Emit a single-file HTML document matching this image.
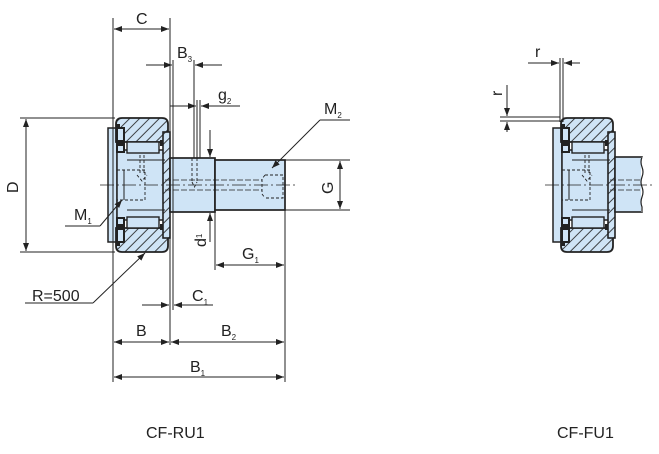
<!DOCTYPE html>
<html><head><meta charset="utf-8"><style>
html,body{margin:0;padding:0;background:#fff;}
svg{display:block}
text{font-family:"Liberation Sans","DejaVu Sans",sans-serif;fill:#222}
</style></head><body>
<svg width="659" height="454" viewBox="0 0 659 454" xmlns="http://www.w3.org/2000/svg">
<defs>
<pattern id="h" patternUnits="userSpaceOnUse" width="7" height="7" patternTransform="rotate(45)">
<rect width="7" height="7" fill="#cfe4f6"/><line x1="0" y1="0" x2="0" y2="7" stroke="#222" stroke-width="1.7"/></pattern>
<marker id="a" markerWidth="8" markerHeight="6" refX="8" refY="3" orient="auto" markerUnits="userSpaceOnUse"><path d="M0,0 L8,3 L0,6 Z" fill="#222"/></marker>
<g id="brg">
 <rect x="108" y="128" width="9" height="114" fill="#cfe4f6" stroke="#222" stroke-width="1.5"/>
 <rect x="117" y="150" width="48" height="70" fill="#cfe4f6" stroke="#222" stroke-width="1.5"/>
 <path d="M116,142 L116,124 Q116,118 122,118 L162,118 Q168,118 168,124 L168,142 Z" fill="url(#h)" stroke="#222" stroke-width="1.8"/>
 <path d="M116,228 L116,246 Q116,252 122,252 L162,252 Q168,252 168,246 L168,228 Z" fill="url(#h)" stroke="#222" stroke-width="1.8"/>
 <rect x="127" y="142" width="32" height="11" fill="#cfe4f6" stroke="#222" stroke-width="1.4"/>
 <rect x="127" y="217" width="32" height="11" fill="#cfe4f6" stroke="#222" stroke-width="1.4"/>
 <rect x="117" y="128" width="7" height="24" fill="#cfe4f6" stroke="#222" stroke-width="2"/>
 <rect x="117" y="218" width="7" height="24" fill="#cfe4f6" stroke="#222" stroke-width="2"/>
 <rect x="118" y="140" width="6" height="6" fill="#222"/>
 <rect x="118" y="224" width="6" height="6" fill="#222"/>
 <rect x="160" y="140" width="6" height="6" fill="#222"/>
 <rect x="160" y="224" width="6" height="6" fill="#222"/>
 <rect x="116" y="124" width="4" height="4" fill="#222"/>
 <rect x="116" y="242" width="4" height="4" fill="#222"/>
 <rect x="163" y="132" width="7" height="106" fill="url(#h)" stroke="#222" stroke-width="1.6"/>
 <rect x="117" y="170" width="28" height="30" fill="none" stroke="#222" stroke-dasharray="3,2" stroke-width="0.9"/>
 <line x1="124" y1="170" x2="124" y2="200" stroke="#222" stroke-width="1"/>
 <path d="M140,155 L140,175 M144,155 L144,175 M137,175 L142,181 L147,175" fill="none" stroke="#222" stroke-width="0.9" stroke-dasharray="3,2"/>
 <line x1="127" y1="160" x2="165" y2="160" stroke="#222" stroke-width="1"/>
 <line x1="127" y1="210" x2="165" y2="210" stroke="#222" stroke-width="1"/>
</g>
</defs>

<use href="#brg"/>
<rect x="170" y="158" width="45" height="54" fill="#cfe4f6" stroke="#222" stroke-width="1.7"/>
<rect x="215" y="160" width="70" height="50" fill="#cfe4f6" stroke="#222" stroke-width="1.7"/>
<path d="M265,175 L283,175 L283,198 L265,198 M265,175 L262,179 L262,194 L265,198" fill="none" stroke="#222" stroke-width="0.9" stroke-dasharray="3,2"/>
<path d="M192,158 L192,182 M197,158 L197,182 M192,182 L194.5,187 L197,182" fill="none" stroke="#222" stroke-width="0.9" stroke-dasharray="3,2"/>
<path d="M165,180 L262,180 M165,190 L262,190" fill="none" stroke="#222" stroke-width="0.8" stroke-dasharray="6,2"/>
<line x1="100" y1="185" x2="295" y2="185" stroke="#222" stroke-width="0.7" stroke-dasharray="14,3,2,3"/>

<g stroke="#222" stroke-width="1" fill="none">
<line x1="113" y1="18" x2="113" y2="382"/><line x1="170" y1="18" x2="170" y2="345"/>
<line x1="123" y1="29" x2="114" y2="29" marker-end="url(#a)"/><line x1="160" y1="29" x2="169" y2="29" marker-end="url(#a)"/>
<line x1="123" y1="29" x2="160" y2="29"/>
<line x1="173" y1="60" x2="173" y2="310"/><line x1="194" y1="60" x2="194" y2="158"/>
<line x1="146" y1="65" x2="172" y2="65" marker-end="url(#a)"/><line x1="222" y1="65" x2="195" y2="65" marker-end="url(#a)"/>
<line x1="197" y1="100" x2="197" y2="158"/><line x1="200" y1="100" x2="200" y2="158"/>
<line x1="170" y1="106" x2="196" y2="106" marker-end="url(#a)"/><line x1="240" y1="106" x2="201" y2="106" marker-end="url(#a)"/>
<line x1="350" y1="120" x2="320" y2="120"/><line x1="320" y1="120" x2="272" y2="168" marker-end="url(#a)"/>
<line x1="285" y1="160" x2="350" y2="160"/><line x1="285" y1="210" x2="350" y2="210"/>
<line x1="340" y1="185" x2="340" y2="161" marker-end="url(#a)"/><line x1="340" y1="185" x2="340" y2="209" marker-end="url(#a)"/>
<line x1="210" y1="130" x2="210" y2="157" marker-end="url(#a)"/><line x1="210" y1="242" x2="210" y2="213" marker-end="url(#a)"/>
<line x1="215" y1="212" x2="215" y2="270"/><line x1="285" y1="210" x2="285" y2="382"/>
<line x1="250" y1="265" x2="216" y2="265" marker-end="url(#a)"/><line x1="250" y1="265" x2="284" y2="265" marker-end="url(#a)"/>
<line x1="20" y1="118" x2="115" y2="118"/><line x1="20" y1="252" x2="115" y2="252"/>
<line x1="26" y1="185" x2="26" y2="119" marker-end="url(#a)"/><line x1="26" y1="185" x2="26" y2="251" marker-end="url(#a)"/>
<line x1="65" y1="226" x2="100" y2="226"/><line x1="100" y1="226" x2="122" y2="200" marker-end="url(#a)"/>
<line x1="25" y1="303" x2="93" y2="303"/><line x1="93" y1="303" x2="145" y2="253" marker-end="url(#a)"/>
<line x1="142" y1="305" x2="169" y2="305" marker-end="url(#a)"/><line x1="213" y1="305" x2="174" y2="305" marker-end="url(#a)"/>
<line x1="140" y1="342" x2="114" y2="342" marker-end="url(#a)"/><line x1="140" y1="342" x2="169" y2="342" marker-end="url(#a)"/>
<line x1="228" y1="342" x2="171" y2="342" marker-end="url(#a)"/><line x1="228" y1="342" x2="284" y2="342" marker-end="url(#a)"/>
<line x1="200" y1="377" x2="114" y2="377" marker-end="url(#a)"/><line x1="200" y1="377" x2="284" y2="377" marker-end="url(#a)"/>
</g>

<g font-size="16">
<text x="136" y="24">C</text>
<text x="177" y="58">B<tspan font-size="8" dy="4">3</tspan></text>
<text x="218" y="100">g<tspan font-size="8" dy="4">2</tspan></text>
<text x="324" y="114">M<tspan font-size="8" dy="4">2</tspan></text>
<text x="0" y="0" transform="translate(333,194) rotate(-90)">G</text>
<text x="0" y="0" transform="translate(206,247) rotate(-90)">d<tspan font-size="8" dy="-4">1</tspan></text>
<text x="242" y="259">G<tspan font-size="8" dy="4">1</tspan></text>
<text x="0" y="0" transform="translate(18,193) rotate(-90)">D</text>
<text x="74" y="220">M<tspan font-size="8" dy="4">1</tspan></text>
<text x="32" y="301">R=500</text>
<text x="192" y="301">C<tspan font-size="8" dy="4">1</tspan></text>
<text x="136" y="336">B</text>
<text x="221" y="336">B<tspan font-size="8" dy="4">2</tspan></text>
<text x="190" y="372">B<tspan font-size="8" dy="4">1</tspan></text>
<text x="146" y="438">CF-RU1</text>
<text x="557" y="438">CF-FU1</text>
<text x="535" y="57">r</text>
<text x="0" y="0" transform="translate(502,96) rotate(-90)">r</text>
</g>

<use href="#brg" transform="translate(445,0)"/>
<rect x="615" y="157" width="27" height="55" fill="#cfe4f6" stroke="#222" stroke-width="1.6"/>
<line x1="642" y1="157" x2="642" y2="212" stroke="#fff" stroke-width="2"/>
<path d="M642,157 q-2,5 0,10 q2,5 0,10 q-2,5 0,10 q2,5 0,10 q-2,5 0,10 l0,5" fill="none" stroke="#222" stroke-width="1.2"/>
<path d="M610,180 L642,180 M610,190 L642,190" stroke="#222" stroke-width="0.8" stroke-dasharray="6,2"/>
<line x1="545" y1="185" x2="655" y2="185" stroke="#222" stroke-width="0.7" stroke-dasharray="14,3,2,3"/>
<g stroke="#222" stroke-width="1" fill="none">
<line x1="560" y1="58" x2="560" y2="122"/><line x1="563" y1="58" x2="563" y2="122"/>
<line x1="528" y1="63" x2="559" y2="63" marker-end="url(#a)"/><line x1="580" y1="63" x2="564" y2="63" marker-end="url(#a)"/>
<line x1="500" y1="117" x2="560" y2="117"/><line x1="500" y1="121" x2="560" y2="121"/>
<line x1="507" y1="85" x2="507" y2="116" marker-end="url(#a)"/><line x1="507" y1="132" x2="507" y2="122" marker-end="url(#a)"/>
</g>
</svg>
</body></html>
